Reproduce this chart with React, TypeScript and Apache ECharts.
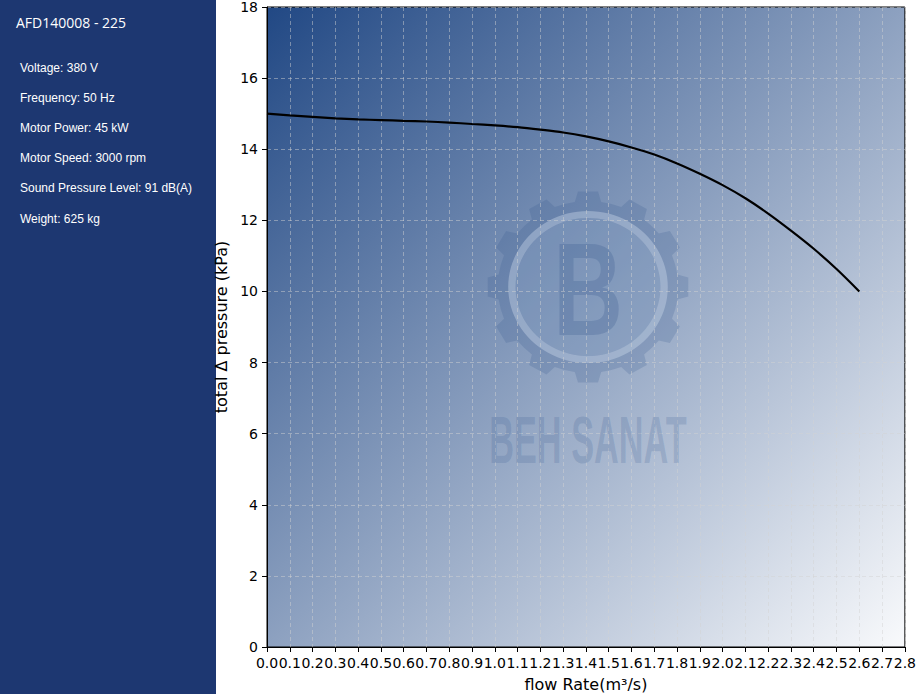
import React, { useEffect, useRef } from "react";
import * as echarts from "echarts";

const flowRate = [0.0, 0.1, 0.2, 0.3, 0.4, 0.5, 0.6, 0.7, 0.8, 0.9, 1.0, 1.1, 1.2, 1.3, 1.4, 1.5, 1.6, 1.7, 1.8, 1.9, 2.0, 2.1, 2.2, 2.3, 2.4, 2.5, 2.6];
const pressure = [15.0, 14.95, 14.91, 14.87, 14.84, 14.82, 14.8, 14.78, 14.75, 14.71, 14.67, 14.62, 14.55, 14.47, 14.36, 14.22, 14.05, 13.85, 13.6, 13.31, 12.99, 12.62, 12.19, 11.71, 11.2, 10.63, 10.0];

const modelTitle = "AFD140008 - 225";
const specLines = [
  "Voltage: 380 V",
  "Frequency: 50 Hz",
  "Motor Power: 45 kW",
  "Motor Speed: 3000 rpm",
  "Sound Pressure Level: 91 dB(A)",
  "Weight: 625 kg",
];

const xName = "flow Rate(m³/s)";
const yName = "total Δ pressure (kPa)";

function gearPoints(n: number, rIn: number, rOut: number): number[][] {
  const pts: number[][] = [];
  const step = (Math.PI * 2) / n;
  for (let i = 0; i < n; i++) {
    const c = -Math.PI / 2 + i * step;
    const baseHalf = step * 0.28;
    const tipHalf = step * 0.19;
    const a = [
      [c - step / 2, rIn],
      [c - baseHalf, rIn],
      [c - tipHalf, rOut],
      [c + tipHalf, rOut],
      [c + baseHalf, rIn],
    ];
    a.forEach(([ang, r]) => pts.push([Math.cos(ang) * r, Math.sin(ang) * r]));
  }
  return pts;
}

export default function App() {
  const ref = useRef<HTMLDivElement>(null);
  useEffect(() => {
    if (!ref.current) return;
    const chart = echarts.init(ref.current, null, { renderer: "svg" });
    const axisFont = "DejaVu Sans";
    const data = flowRate.map((x, i) => [x, pressure[i]]);
    const graphics: any[] = [
      {
        type: "rect",
        left: 0,
        top: 0,
        z: -10,
        shape: { x: 0, y: 0, width: 216, height: 700 },
        style: { fill: "#1d3771" },
        silent: true,
      },
      {
        type: "text",
        x: 16,
        y: 22,
        style: {
          text: modelTitle,
          fill: "#ffffff",
          font: "500 14px 'Open Sans'",
          verticalAlign: "middle",
        },
      },
      ...specLines.map((t, i) => ({
        type: "text",
        x: 20,
        y: 67.5 + i * 30.2,
        style: {
          text: t,
          fill: "#ffffff",
          font: "12px 'Liberation Sans', Arial",
          verticalAlign: "middle",
        },
      })),
      {
        type: "group",
        x: 588,
        y: 287,
        scaleX: 1.05,
        z: 1,
        silent: true,
        children: [
          {
            type: "polygon",
            shape: { points: gearPoints(12, 86, 96) },
            style: { fill: "rgba(50,85,140,0.2)" },
          },
          {
            type: "circle",
            shape: { cx: 0, cy: 0, r: 69 },
            style: { fill: "rgba(170,190,220,0.22)" },
          },
          {
            type: "ring",
            shape: { cx: 0, cy: 0, r: 76, r0: 69 },
            style: { fill: "rgba(205,218,236,0.4)" },
          },
          {
            type: "text",
            x: 0,
            y: 2,
            scaleX: 0.7,
            style: {
              text: "B",
              fill: "rgba(50,85,140,0.24)",
              font: "bold 132px 'Liberation Sans'",
              align: "center",
              verticalAlign: "middle",
            },
          },
        ],
      },
      {
        type: "text",
        x: 588,
        y: 440,
        scaleX: 0.52,
        z: 1,
        silent: true,
        style: {
          text: "BEH SANAT",
          fill: "rgba(55,90,145,0.2)",
          font: "bold 66px 'Liberation Sans'",
          align: "center",
          verticalAlign: "middle",
        },
      },
    ];

    chart.setOption({
      animation: false,
      backgroundColor: "#ffffff",
      grid: {
        left: 267,
        top: 6,
        width: 640,
        height: 643,
        show: true,
        borderColor: "#000000",
        borderWidth: 1,
        backgroundColor: new echarts.graphic.LinearGradient(0, 0, 1, 1, [
          { offset: 0, color: "#214884" },
          { offset: 1, color: "#f9fafc" },
        ]),
      },
      xAxis: {
        type: "value",
        min: 0,
        max: 2.8,
        interval: 0.1,
        name: xName,
        nameLocation: "middle",
        nameGap: 29,
        nameTextStyle: { fontFamily: axisFont, fontSize: 16, color: "#000" },
        axisLine: { show: true, lineStyle: { color: "#000", width: 1 } },
        axisTick: { show: true, length: 5, lineStyle: { color: "#000" } },
        axisLabel: {
          color: "#000",
          fontFamily: axisFont,
          fontSize: 14,
          margin: 9,
          formatter: (v: number) => v.toFixed(1),
        },
        splitLine: {
          show: true,
          lineStyle: { color: "rgba(210,210,210,0.6)", type: [4, 3], width: 0.8 },
        },
      },
      yAxis: {
        type: "value",
        min: 0,
        max: 18,
        interval: 2,
        name: yName,
        nameLocation: "middle",
        nameGap: 34,
        nameTextStyle: { fontFamily: axisFont, fontSize: 16, color: "#000" },
        axisLine: { show: true, lineStyle: { color: "#000", width: 1 } },
        axisTick: { show: true, length: 5, lineStyle: { color: "#000" } },
        axisLabel: {
          color: "#000",
          fontFamily: axisFont,
          fontSize: 14,
          margin: 9,
        },
        splitLine: {
          show: true,
          lineStyle: { color: "rgba(210,210,210,0.6)", type: [4, 3], width: 0.8 },
        },
      },
      graphic: graphics,
      series: [
        {
          type: "line",
          data,
          smooth: 0.3,
          showSymbol: false,
          z: 5,
          lineStyle: { color: "#000000", width: 2.2 },
        },
      ],
    });
    return () => chart.dispose();
  }, []);
  return (
    <div
      ref={ref}
      style={{ position: "fixed", left: 0, top: 0, width: 919, height: 697 }}
    />
  );
}
